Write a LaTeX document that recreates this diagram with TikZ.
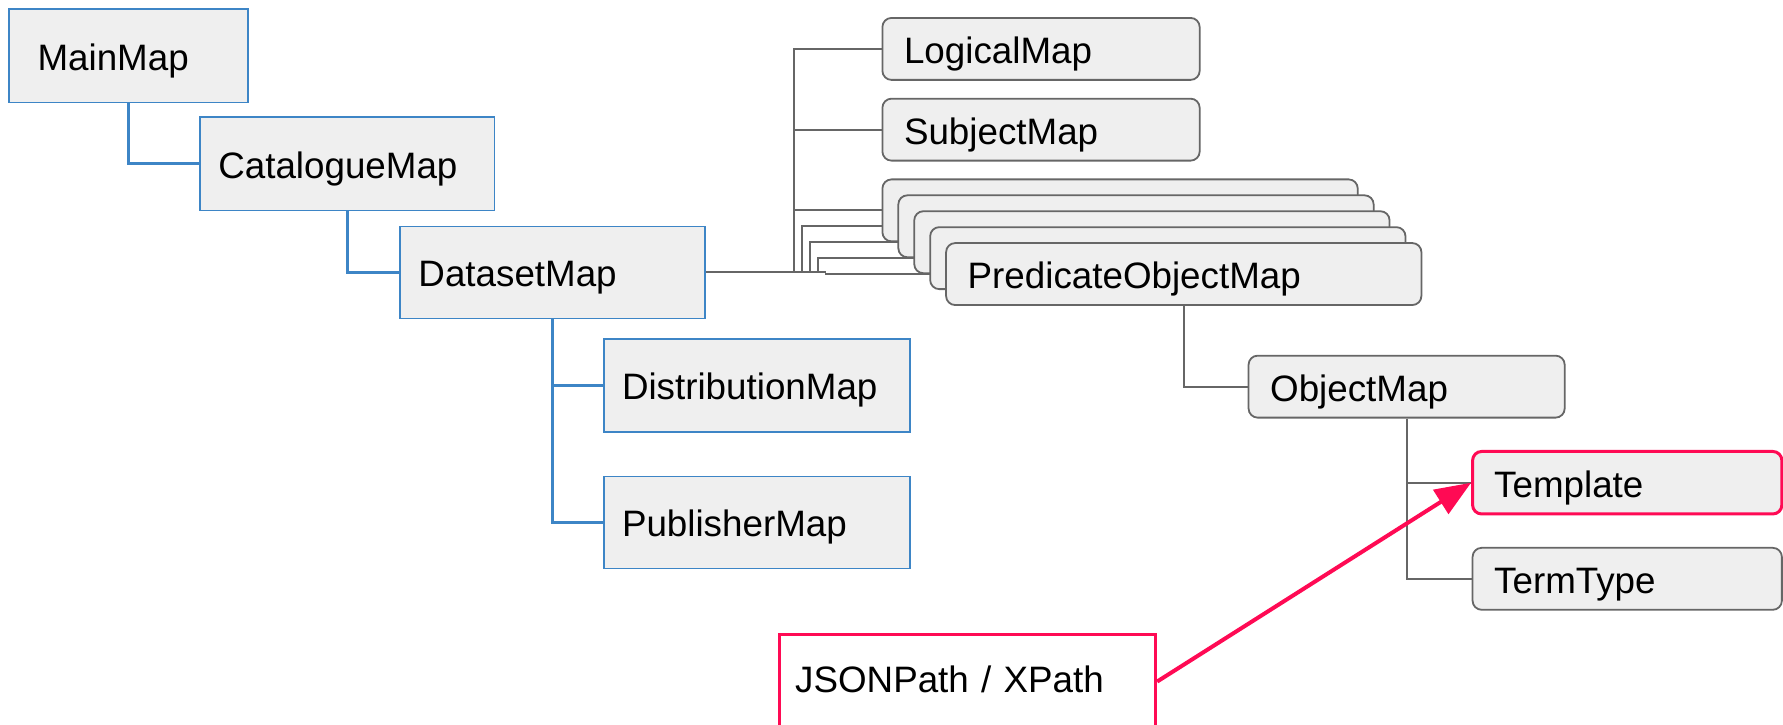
\documentclass[tikz,border=0pt]{standalone}
\usepackage{fontspec}
\setmainfont{Liberation Sans}
\usetikzlibrary{arrows.meta,backgrounds}
\definecolor{mapblue}{HTML}{3D85C6}
\definecolor{mapfill}{HTML}{EFEFEF}
\definecolor{mapgrey}{HTML}{666666}
\definecolor{mapred}{HTML}{FF0A54}
\tikzset{
    every node/.style={font=\fontsize{9.2pt}{11pt}\selectfont, text height=0.72em, text depth=0pt, align=left},
    mapbox/.style={rectangle, draw=mapblue, fill=mapfill, line width=0.4pt, inner xsep=0.16cm, minimum height=0.82cm},
    termbox/.style={rectangle, rounded corners=0.08cm, draw=mapgrey, fill=mapfill, line width=0.45pt, inner xsep=0.19cm, minimum height=0.545cm},
    bluelink/.style={draw=mapblue, line width=0.75pt},
    greylink/.style={draw=mapgrey, line width=0.45pt},
}
\begin{document}
\begin{tikzpicture}
    \useasboundingbox (0,0) rectangle (15.68,-6.37);
    \clip (0,0) rectangle (15.68,-6.37);
    \node[mapbox, inner xsep=0.25cm, text width=1.60cm] (main) at (1.13,-0.49) {MainMap};
    \node[mapbox, text width=2.27cm] (catalogue) at (3.055,-1.44) {CatalogueMap};
    \node[mapbox, text width=2.36cm, minimum height=0.81cm] (dataset) at (4.86,-2.395) {DatasetMap};
    \node[mapbox, text width=2.37cm] (distribution) at (6.655,-3.39) {DistributionMap};
    \node[mapbox, text width=2.37cm, minimum height=0.81cm] (publisher) at (6.655,-4.595) {PublisherMap};
    \node[termbox, text width=2.41cm] (logical) at (9.155,-0.43) {LogicalMap};
    \node[termbox, text width=2.41cm] (subject) at (9.155,-1.14) {SubjectMap};
    \foreach \k in {0,...,3}
        \node[termbox, text width=3.80cm] (pom\k) at (9.85+0.14*\k,-1.85-0.14*\k) {};
    \node[termbox, text width=3.80cm] (pom4) at (10.41,-2.41) {PredicateObjectMap};
    \node[termbox, text width=2.40cm] (object) at (12.37,-3.40) {ObjectMap};
    \node[termbox, draw=mapred, line width=0.75pt, text width=2.34cm, minimum height=0.55cm] (template) at (14.31,-4.245) {Template};
    \node[termbox, text width=2.34cm] (termtype) at (14.31,-5.09) {TermType};
    \node[rectangle, draw=mapred, line width=0.75pt, fill=white, inner xsep=0.14cm, inner ysep=0.25cm, text depth=0.5cm, text width=3.03cm, anchor=north west] (jsonpath) at (6.84,-5.57) {JSONPath / XPath};
    \begin{scope}[on background layer]
        \draw[bluelink] (main.south) |- (catalogue.west);
        \draw[bluelink] (catalogue.south) |- (dataset.west);
        \draw[bluelink] (dataset.south) |- (distribution.west);
        \draw[bluelink] (dataset.south) |- (publisher.west);
        \draw[greylink] (dataset.east) -| (6.98,0 |- logical.west) -- (logical.west);
        \draw[greylink] (dataset.east) -| (6.98,0 |- subject.west) -- (subject.west);
        \foreach \k in {0,...,4}
            \draw[greylink] (dataset.east) -| (6.98+0.07*\k,0 |- pom\k.west) -- (pom\k.west);
        \draw[greylink] (pom4.south) |- (object.west);
        \draw[greylink] (object.south) |- (template.west);
        \draw[greylink] (object.south) |- (termtype.west);
    \end{scope}
    \draw[mapred, line width=1pt, -{Triangle[length=9pt,width=7pt]}] (jsonpath.mid east) -- (template.west);
\end{tikzpicture}
\end{document}
